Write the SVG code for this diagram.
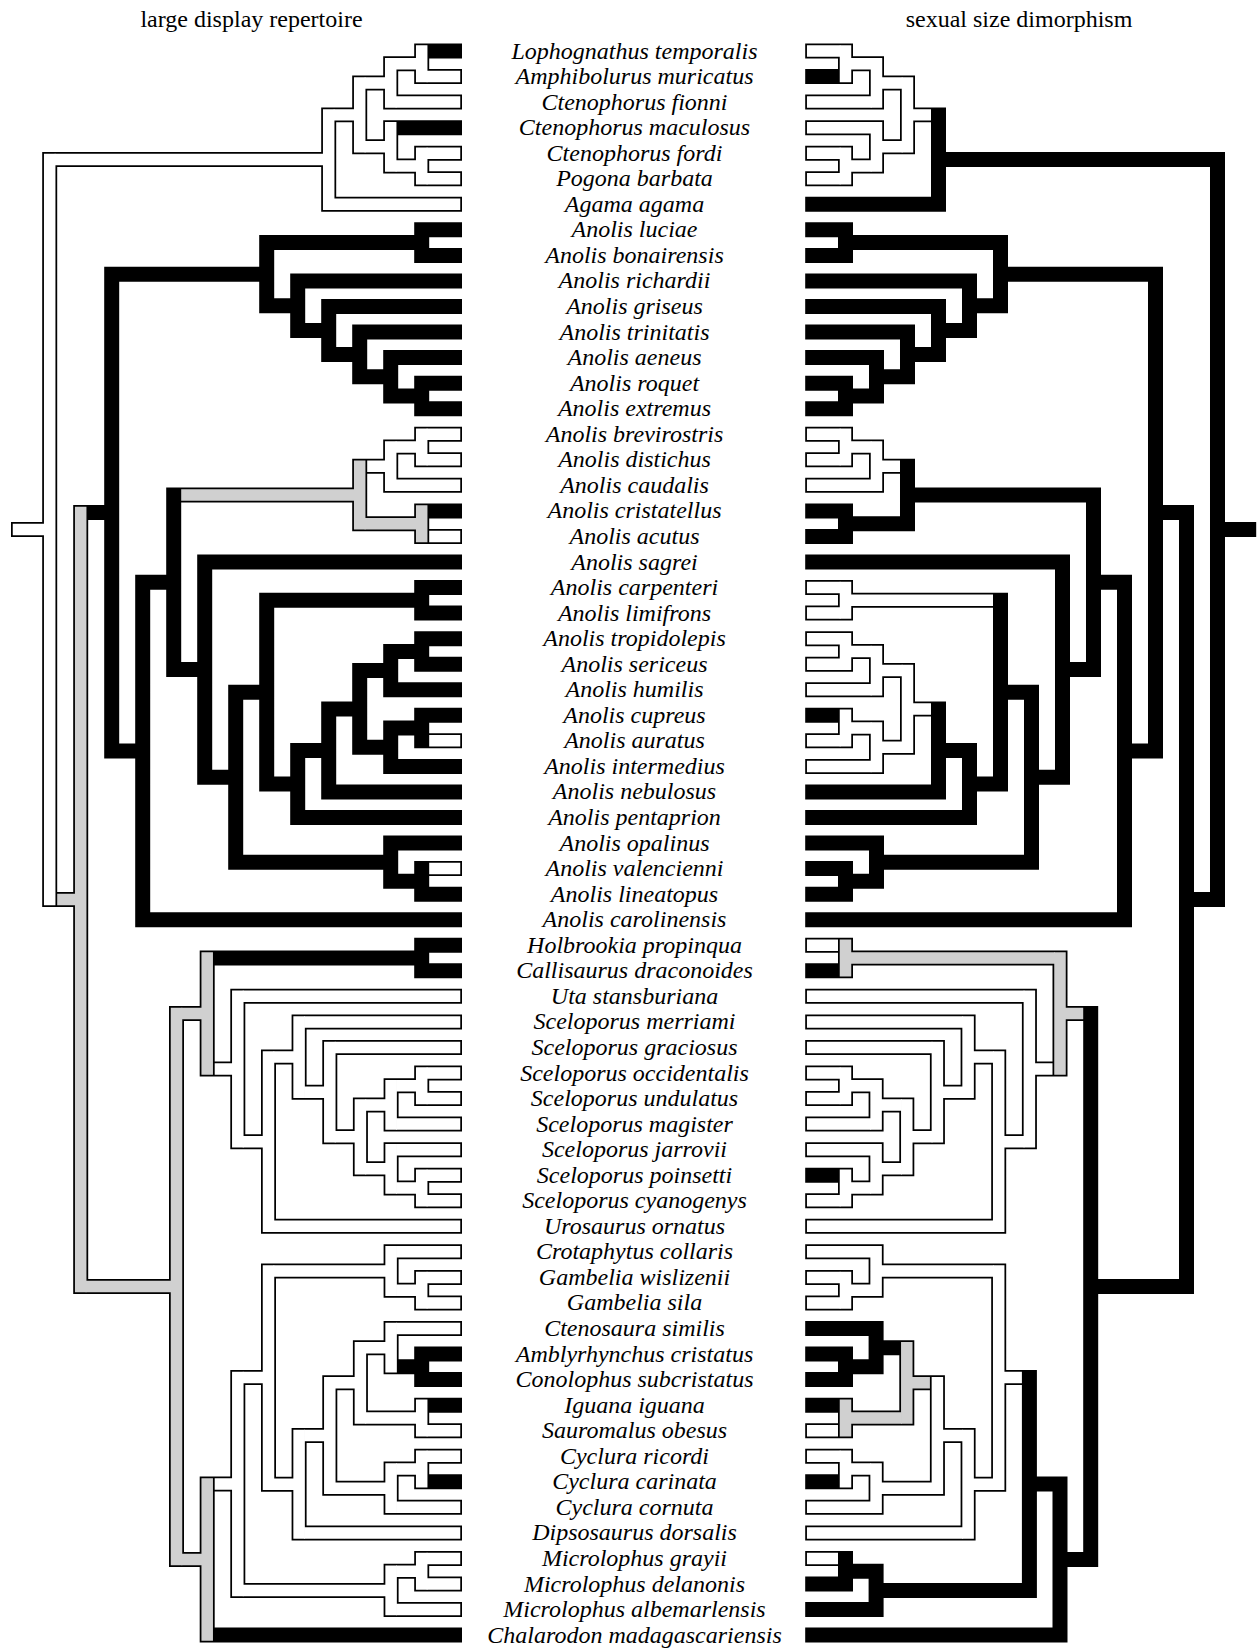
<svg xmlns="http://www.w3.org/2000/svg" xmlns:xlink="http://www.w3.org/1999/xlink" width="1259" height="1648" viewBox="0 0 1259 1648">
<style>
.o{fill:none;stroke:#000;stroke-width:15;stroke-linecap:square}
.fh{fill:none;stroke-width:11.5;stroke-linecap:butt}
.fv{fill:none;stroke-width:11.5;stroke-linecap:square}
.w{stroke:#fff}
.g{stroke:#d0d0d0}
path{vector-effect:non-scaling-stroke}
text{font-family:"Liberation Serif","Times New Roman",serif;font-size:24px;fill:#000}
.tx{font-style:italic;text-anchor:middle}
.ti{text-anchor:middle}
</style>
<defs>
<path id="sk" vector-effect="non-scaling-stroke" d="M18.5,18.7307H49.7M49.7,4.25V33.2114
M49.7,4.25H328.7M328.7,2.5V6M328.7,2.5H359.7M359.7,1.25V3.75M359.7,1.25H390.7M390.7,0.5V2M390.7,0.5H421.7M421.7,0V1
M421.7,0H454.5M421.7,1H454.5M390.7,2H454.5M359.7,3.75H390.7M390.7,3V4.5M390.7,3H454.5M390.7,4.5H421.7M421.7,4V5M421.7,4H454.5M421.7,5H454.5M328.7,6H454.5
M49.7,33.2114H80.7M80.7,18.0654V48.3574M80.7,18.0654H111.7M111.7,8.7344V27.3965
M111.7,8.7344H266.7M266.7,7.5V9.9688M266.7,7.5H421.7M421.7,7V8M421.7,7H454.5M421.7,8H454.5
M266.7,9.9688H297.7M297.7,9V10.9375M297.7,9H454.5M297.7,10.9375H328.7M328.7,10V11.875M328.7,10H454.5
M328.7,11.875H359.7M359.7,11V12.75M359.7,11H454.5M359.7,12.75H390.7M390.7,12V13.5M390.7,12H454.5
M390.7,13.5H421.7M421.7,13V14M421.7,13H454.5M421.7,14H454.5
M111.7,27.3965H142.7M142.7,20.793V34M142.7,34H454.5M142.7,20.793H173.7M173.7,17.375V24.2109
M173.7,17.375H359.7M359.7,16.25V18.5M359.7,16.25H390.7M390.7,15.5V17M390.7,15.5H421.7M421.7,15V16M421.7,15H454.5M421.7,16H454.5M390.7,17H454.5
M359.7,18.5H421.7M421.7,18V19M421.7,18H454.5M421.7,19H454.5
M173.7,24.2109H204.7M204.7,20V28.4219M204.7,20H454.5M204.7,28.4219H235.7M235.7,25.0938V31.75
M235.7,25.0938H266.7M266.7,21.5V28.6875M266.7,21.5H421.7M421.7,21V22M421.7,21H454.5M421.7,22H454.5
M266.7,28.6875H297.7M297.7,27.375V30M297.7,30H454.5M297.7,27.375H328.7M328.7,25.75V29M328.7,29H454.5
M328.7,25.75H359.7M359.7,24.25V27.25M359.7,24.25H390.7M390.7,23.5V25M390.7,23.5H421.7M421.7,23V24M421.7,23H454.5M421.7,24H454.5M390.7,25H454.5
M359.7,27.25H390.7M390.7,26.5V28M390.7,26.5H421.7M421.7,26V27M421.7,26H454.5M421.7,27H454.5M390.7,28H454.5
M235.7,31.75H390.7M390.7,31V32.5M390.7,31H454.5M390.7,32.5H421.7M421.7,32V33M421.7,32H454.5M421.7,33H454.5
M80.7,48.3574H176.5M176.5,37.6719V59.043M176.5,37.6719H207.2M207.2,35.5V39.8438
M207.2,35.5H421.7M421.7,35V36M421.7,35H454.5M421.7,36H454.5
M207.2,39.8438H237.8M237.8,37V42.6875M237.8,37H454.5M237.8,42.6875H268.5M268.5,39.375V46M268.5,46H454.5
M268.5,39.375H299.1M299.1,38V40.75M299.1,38H454.5M299.1,40.75H329.8M329.8,39V42.5M329.8,39H454.5
M329.8,42.5H360.4M360.4,41.25V43.75M360.4,41.25H391.1M391.1,40.5V42M391.1,40.5H421.7M421.7,40V41M421.7,40H454.5M421.7,41H454.5M391.1,42H454.5
M360.4,43.75H391.1M391.1,43V44.5M391.1,43H454.5M391.1,44.5H421.7M421.7,44V45M421.7,44H454.5M421.7,45H454.5
M176.5,59.043H207.2M207.2,56.0859V62M207.2,62H454.5M207.2,56.0859H237.8M237.8,51.9219V60.25
M237.8,51.9219H268.5M268.5,47.75V56.0938M268.5,47.75H391.1M391.1,47V48.5M391.1,47H454.5M391.1,48.5H421.7M421.7,48V49M421.7,48H454.5M421.7,49H454.5
M268.5,56.0938H299.1M299.1,54.1875V58M299.1,58H454.5M299.1,54.1875H329.8M329.8,52.125V56.25
M329.8,52.125H360.4M360.4,50.75V53.5M360.4,50.75H391.1M391.1,50V51.5M391.1,50H454.5M391.1,51.5H421.7M421.7,51V52M421.7,51H454.5M421.7,52H454.5
M360.4,53.5H421.7M421.7,53V54M421.7,53H454.5M421.7,54H454.5
M329.8,56.25H391.1M391.1,55.5V57M391.1,55.5H421.7M421.7,55V56M421.7,55H454.5M421.7,56H454.5M391.1,57H454.5
M237.8,60.25H391.1M391.1,59.5V61M391.1,59.5H421.7M421.7,59V60M421.7,59H454.5M421.7,60H454.5M391.1,61H454.5"/>
</defs>
<rect width="1259" height="1648" fill="#fff"/>
<text class="ti" x="251.5" y="26.5">large display repertoire</text>
<text class="ti" x="1019" y="26.5">sexual size dimorphism</text>
<g id="connectors">
<g id="tree-left" transform="matrix(1,0,0,25.55,0,51)">
<use xlink:href="#sk" class="o"/>
<path class="fh w" d="M12.75,18.7307H49.7M54.7,4.25H328.7M333.7,2.5H359.7M364.7,1.25H390.7M395.7,0.5H421.7M426.7,1H460.25M395.7,2H460.25M364.7,3.75H390.7M395.7,4.5H421.7M426.7,4H460.25M426.7,5H460.25M333.7,6H460.25
M367.2,16.25H390.7M395.7,15.5H421.7M426.7,15H460.25M426.7,16H460.25M395.7,17H460.25M429.2,19H460.25M429.2,27H460.25M429.2,32H460.25
M214.7,39.8438H237.8M242.8,37H460.25M242.8,42.6875H268.5M273.5,46H460.25M273.5,39.375H299.1M304.1,38H460.25M304.1,40.75H329.8M334.8,39H460.25M334.8,42.5H360.4M365.4,41.25H391.1M396.1,40.5H421.7M426.7,40H460.25M426.7,41H460.25M396.1,42H460.25M365.4,43.75H391.1M396.1,43H460.25M396.1,44.5H421.7M426.7,44H460.25M426.7,45H460.25
M214.7,56.0859H237.8M242.8,51.9219H268.5M273.5,47.75H391.1M396.1,47H460.25M396.1,48.5H421.7M426.7,48H460.25M426.7,49H460.25M273.5,56.0938H299.1M304.1,58H460.25M304.1,54.1875H329.8M334.8,52.125H360.4M365.4,50.75H391.1M396.1,50H460.25M365.4,53.5H421.7M426.7,54H460.25
M334.8,56.25H391.1M396.1,55.5H421.7M426.7,55H460.25M396.1,57H460.25M242.8,60.25H391.1M396.1,59.5H421.7M426.7,59H460.25M426.7,60H460.25M396.1,61H460.25"/>
<path class="fv w" d="M49.7,4.25V33.2114M328.7,2.5V6M359.7,1.25V3.75M390.7,0.5V2M421.7,0V1M390.7,3V4.5M421.7,4V5M390.7,15.5V17M421.7,15V16
M237.8,37V42.6875M268.5,39.375V46M299.1,38V40.75M329.8,39V42.5M360.4,41.25V43.75M391.1,40.5V42M421.7,40V41M391.1,43V44.5M421.7,44V45
M237.8,51.9219V60.25M268.5,47.75V56.0938M391.1,47V48.5M421.7,48V49M299.1,54.1875V58M329.8,52.125V56.25M360.4,50.75V53.5M391.1,50V51.5M421.7,53V54M391.1,55.5V57M421.7,55V56M391.1,59.5V61M421.7,59V60"/>
<path class="fh g" d="M57.2,33.2114H80.7M181.2,17.375H359.7M364.7,18.5H421.7M85.7,48.3574H176.5M181.5,37.6719H207.2M181.5,59.043H207.2"/>
<path class="fv g" d="M80.7,18.0654V48.3574M359.7,16.25V18.5M421.7,18V19M176.5,37.6719V59.043M207.2,35.5V39.8438M207.2,56.0859V62"/>
</g>
<g id="tree-right" transform="matrix(-1,0,0,25.55,1267.2,51)">
<use xlink:href="#sk" class="o"/>
<path class="fh w" d="M336.2,2.5H359.7M364.7,1.25H390.7M395.7,0.5H421.7M426.7,0H460.25M395.7,2H460.25M364.7,3.75H390.7M395.7,3H460.25M395.7,4.5H421.7M426.7,4H460.25M426.7,5H460.25
M367.2,16.25H390.7M395.7,15.5H421.7M426.7,15H460.25M426.7,16H460.25M395.7,17H460.25
M274.2,21.5H421.7M426.7,21H460.25M426.7,22H460.25
M336.2,25.75H359.7M364.7,24.25H390.7M395.7,23.5H421.7M426.7,23H460.25M426.7,24H460.25M395.7,25H460.25M364.7,27.25H390.7M395.7,26.5H421.7M426.7,27H460.25M395.7,28H460.25
M429.2,35H460.25
M214.7,39.8438H237.8M242.8,37H460.25M242.8,42.6875H268.5M273.5,46H460.25M273.5,39.375H299.1M304.1,38H460.25M304.1,40.75H329.8M334.8,39H460.25M334.8,42.5H360.4M365.4,41.25H391.1M396.1,40.5H421.7M426.7,40H460.25M426.7,41H460.25M396.1,42H460.25M365.4,43.75H391.1M396.1,43H460.25M396.1,44.5H421.7M426.7,45H460.25
M245.3,51.9219H268.5M273.5,47.75H391.1M396.1,47H460.25M396.1,48.5H421.7M426.7,48H460.25M426.7,49H460.25M273.5,56.0938H299.1M304.1,58H460.25M304.1,54.1875H329.8M429.2,54H460.25
M334.8,56.25H391.1M396.1,55.5H421.7M426.7,55H460.25M396.1,57H460.25M429.2,59H460.25"/>
<path class="fv w" d="M359.7,1.25V3.75M390.7,0.5V2M421.7,0V1M390.7,3V4.5M421.7,4V5M390.7,15.5V17M421.7,15V16M421.7,21V22M359.7,24.25V27.25M390.7,23.5V25M421.7,23V24M390.7,26.5V28M421.7,26V27
M237.8,37V42.6875M268.5,39.375V46M299.1,38V40.75M329.8,39V42.5M360.4,41.25V43.75M391.1,40.5V42M421.7,40V41M391.1,43V44.5M421.7,44V45
M268.5,47.75V56.0938M391.1,47V48.5M421.7,48V49M299.1,54.1875V58M329.8,52.125V56.25M391.1,55.5V57M421.7,55V56"/>
<path class="fh g" d="M184,37.6719H207.2M212.2,35.5H421.7M337.3,52.125H360.4M365.4,53.5H421.7"/>
<path class="fv g" d="M207.2,35.5V39.8438M421.7,35V36M360.4,50.75V53.5M421.7,53V54"/>
</g>
</g>
<g id="taxa" class="tx">
<g id="taxon-01"><text class="tx" x="634.5" y="58.5">Lophognathus temporalis</text></g>
<g id="taxon-02"><text class="tx" x="634.5" y="84.05">Amphibolurus muricatus</text></g>
<g id="taxon-03"><text class="tx" x="634.5" y="109.6">Ctenophorus fionni</text></g>
<g id="taxon-04"><text class="tx" x="634.5" y="135.15">Ctenophorus maculosus</text></g>
<g id="taxon-05"><text class="tx" x="634.5" y="160.7">Ctenophorus fordi</text></g>
<g id="taxon-06"><text class="tx" x="634.5" y="186.25">Pogona barbata</text></g>
<g id="taxon-07"><text class="tx" x="634.5" y="211.8">Agama agama</text></g>
<g id="taxon-08"><text class="tx" x="634.5" y="237.35">Anolis luciae</text></g>
<g id="taxon-09"><text class="tx" x="634.5" y="262.9">Anolis bonairensis</text></g>
<g id="taxon-10"><text class="tx" x="634.5" y="288.45">Anolis richardii</text></g>
<g id="taxon-11"><text class="tx" x="634.5" y="314">Anolis griseus</text></g>
<g id="taxon-12"><text class="tx" x="634.5" y="339.55">Anolis trinitatis</text></g>
<g id="taxon-13"><text class="tx" x="634.5" y="365.1">Anolis aeneus</text></g>
<g id="taxon-14"><text class="tx" x="634.5" y="390.65">Anolis roquet</text></g>
<g id="taxon-15"><text class="tx" x="634.5" y="416.2">Anolis extremus</text></g>
<g id="taxon-16"><text class="tx" x="634.5" y="441.75">Anolis brevirostris</text></g>
<g id="taxon-17"><text class="tx" x="634.5" y="467.3">Anolis distichus</text></g>
<g id="taxon-18"><text class="tx" x="634.5" y="492.85">Anolis caudalis</text></g>
<g id="taxon-19"><text class="tx" x="634.5" y="518.4">Anolis cristatellus</text></g>
<g id="taxon-20"><text class="tx" x="634.5" y="543.95">Anolis acutus</text></g>
<g id="taxon-21"><text class="tx" x="634.5" y="569.5">Anolis sagrei</text></g>
<g id="taxon-22"><text class="tx" x="634.5" y="595.05">Anolis carpenteri</text></g>
<g id="taxon-23"><text class="tx" x="634.5" y="620.6">Anolis limifrons</text></g>
<g id="taxon-24"><text class="tx" x="634.5" y="646.15">Anolis tropidolepis</text></g>
<g id="taxon-25"><text class="tx" x="634.5" y="671.7">Anolis sericeus</text></g>
<g id="taxon-26"><text class="tx" x="634.5" y="697.25">Anolis humilis</text></g>
<g id="taxon-27"><text class="tx" x="634.5" y="722.8">Anolis cupreus</text></g>
<g id="taxon-28"><text class="tx" x="634.5" y="748.35">Anolis auratus</text></g>
<g id="taxon-29"><text class="tx" x="634.5" y="773.9">Anolis intermedius</text></g>
<g id="taxon-30"><text class="tx" x="634.5" y="799.45">Anolis nebulosus</text></g>
<g id="taxon-31"><text class="tx" x="634.5" y="825">Anolis pentaprion</text></g>
<g id="taxon-32"><text class="tx" x="634.5" y="850.55">Anolis opalinus</text></g>
<g id="taxon-33"><text class="tx" x="634.5" y="876.1">Anolis valencienni</text></g>
<g id="taxon-34"><text class="tx" x="634.5" y="901.65">Anolis lineatopus</text></g>
<g id="taxon-35"><text class="tx" x="634.5" y="927.2">Anolis carolinensis</text></g>
<g id="taxon-36"><text class="tx" x="634.5" y="952.75">Holbrookia propinqua</text></g>
<g id="taxon-37"><text class="tx" x="634.5" y="978.3">Callisaurus draconoides</text></g>
<g id="taxon-38"><text class="tx" x="634.5" y="1003.85">Uta stansburiana</text></g>
<g id="taxon-39"><text class="tx" x="634.5" y="1029.4">Sceloporus merriami</text></g>
<g id="taxon-40"><text class="tx" x="634.5" y="1054.95">Sceloporus graciosus</text></g>
<g id="taxon-41"><text class="tx" x="634.5" y="1080.5">Sceloporus occidentalis</text></g>
<g id="taxon-42"><text class="tx" x="634.5" y="1106.05">Sceloporus undulatus</text></g>
<g id="taxon-43"><text class="tx" x="634.5" y="1131.6">Sceloporus magister</text></g>
<g id="taxon-44"><text class="tx" x="634.5" y="1157.15">Sceloporus jarrovii</text></g>
<g id="taxon-45"><text class="tx" x="634.5" y="1182.7">Sceloporus poinsetti</text></g>
<g id="taxon-46"><text class="tx" x="634.5" y="1208.25">Sceloporus cyanogenys</text></g>
<g id="taxon-47"><text class="tx" x="634.5" y="1233.8">Urosaurus ornatus</text></g>
<g id="taxon-48"><text class="tx" x="634.5" y="1259.35">Crotaphytus collaris</text></g>
<g id="taxon-49"><text class="tx" x="634.5" y="1284.9">Gambelia wislizenii</text></g>
<g id="taxon-50"><text class="tx" x="634.5" y="1310.45">Gambelia sila</text></g>
<g id="taxon-51"><text class="tx" x="634.5" y="1336">Ctenosaura similis</text></g>
<g id="taxon-52"><text class="tx" x="634.5" y="1361.55">Amblyrhynchus cristatus</text></g>
<g id="taxon-53"><text class="tx" x="634.5" y="1387.1">Conolophus subcristatus</text></g>
<g id="taxon-54"><text class="tx" x="634.5" y="1412.65">Iguana iguana</text></g>
<g id="taxon-55"><text class="tx" x="634.5" y="1438.2">Sauromalus obesus</text></g>
<g id="taxon-56"><text class="tx" x="634.5" y="1463.75">Cyclura ricordi</text></g>
<g id="taxon-57"><text class="tx" x="634.5" y="1489.3">Cyclura carinata</text></g>
<g id="taxon-58"><text class="tx" x="634.5" y="1514.85">Cyclura cornuta</text></g>
<g id="taxon-59"><text class="tx" x="634.5" y="1540.4">Dipsosaurus dorsalis</text></g>
<g id="taxon-60"><text class="tx" x="634.5" y="1565.95">Microlophus grayii</text></g>
<g id="taxon-61"><text class="tx" x="634.5" y="1591.5">Microlophus delanonis</text></g>
<g id="taxon-62"><text class="tx" x="634.5" y="1617.05">Microlophus albemarlensis</text></g>
<g id="taxon-63"><text class="tx" x="634.5" y="1642.6">Chalarodon madagascariensis</text></g>
</g>
</svg>
